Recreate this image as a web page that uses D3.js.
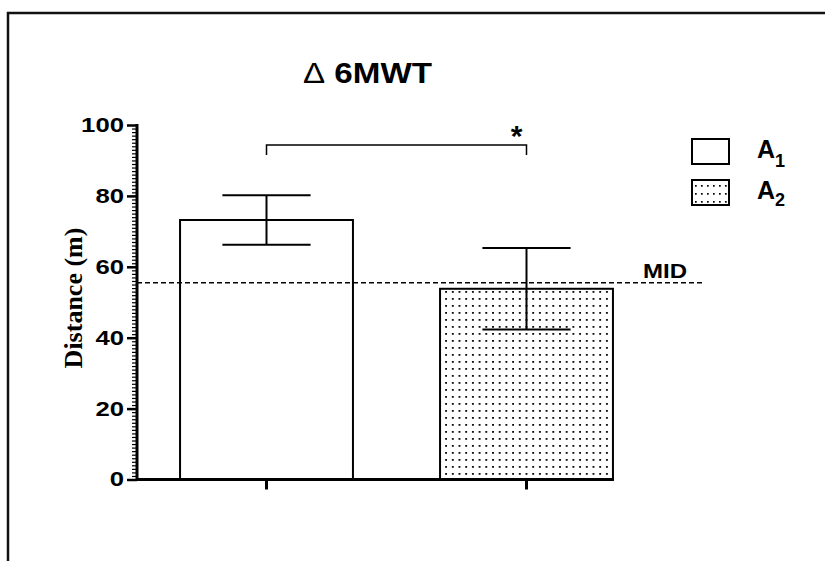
<!DOCTYPE html>
<html>
<head>
<meta charset="utf-8">
<script src="https://cdn.jsdelivr.net/npm/d3@7"></script>
<style>
  html, body { margin: 0; padding: 0; background: #fff; overflow: hidden; }
  svg { display: block; }
  text { font-family: "Liberation Sans", Arial, sans-serif; fill: #000; }
</style>
</head>
<body>
<svg id="chart" width="825" height="561"></svg>
<script>
// Group labels, mean change in walking distance and error half-widths
const categories = ["A1", "A2"];
const means = [73.2, 53.8];
const errors = [7.0, 11.5];
const fills = ["plain", "dots"];
// Minimal important difference reference line
const midValue = 55.5;
const midLabel = "MID";
// Y axis ticks
const yMajorTicks = [0, 20, 40, 60, 80, 100];
const yMinorTicks = d3.range(0, 101, 1);
const titleText = "6MWT";
const yTitle = "Distance (m)";

const svg = d3.select("#chart");
const defs = svg.append("defs");

// Stipple fill for the second group
const pat = defs.append("pattern")
  .attr("id", "dots")
  .attr("patternUnits", "userSpaceOnUse")
  .attr("width", 6.7).attr("height", 7)
  .attr("x", 1).attr("y", 2);
pat.append("rect").attr("width", 6.7).attr("height", 7).attr("fill", "#fff");
pat.append("rect").attr("x", 2).attr("y", 2).attr("width", 1.8).attr("height", 1.8).attr("fill", "#000");

const legPat = defs.append("pattern")
  .attr("id", "dotsLegend")
  .attr("patternUnits", "userSpaceOnUse")
  .attr("width", 6).attr("height", 8)
  .attr("x", 693).attr("y", 182);
legPat.append("rect").attr("width", 6).attr("height", 8).attr("fill", "#fff");
legPat.append("rect").attr("x", 2).attr("y", 3).attr("width", 1.7).attr("height", 1.7).attr("fill", "#000");

// Page frame (top and left edges)
svg.append("path").attr("d", "M8,561 V13 H825").attr("fill", "none").attr("stroke", "#111").attr("stroke-width", 2.5);

// Scales
const x = d3.scaleBand().domain(categories).range([136.5, 656.5]).paddingInner(0.335).paddingOuter(0.1675);
const y = d3.scaleLinear().domain([0, 100]).range([479.5, 125]);

// Bars
const bars = svg.append("g");
bars.selectAll("rect").data(categories).join("rect")
  .attr("x", d => x(d))
  .attr("y", (d, i) => y(means[i]))
  .attr("width", x.bandwidth())
  .attr("height", (d, i) => y(0) - y(means[i]))
  .attr("fill", (d, i) => fills[i] === "dots" ? "url(#dots)" : "#fff")
  .attr("stroke", "#000").attr("stroke-width", 2);

// MID dashed line
const midX0 = 137, midX1 = 703;
svg.append("line")
  .attr("x1", midX0).attr("x2", midX1)
  .attr("y1", y(midValue)).attr("y2", y(midValue))
  .attr("stroke", "#000").attr("stroke-width", 1.3).attr("stroke-dasharray", "5,3");
svg.append("text").attr("x", 643).attr("y", y(midValue) - 5)
  .attr("font-size", 21).attr("font-weight", "bold")
  .attr("textLength", 44).attr("lengthAdjust", "spacingAndGlyphs")
  .text(midLabel);

// Error bars
const capW = x.bandwidth() * 0.51;
const eb = svg.append("g").attr("stroke", "#000").attr("stroke-width", 2).attr("fill", "none");
categories.forEach((c, i) => {
  const cx = x(c) + x.bandwidth() / 2;
  const hi = y(means[i] + errors[i]), lo = y(means[i] - errors[i]);
  eb.append("line").attr("x1", cx).attr("x2", cx).attr("y1", hi).attr("y2", lo);
  eb.append("line").attr("x1", cx - capW / 2).attr("x2", cx + capW / 2).attr("y1", hi).attr("y2", hi);
  eb.append("line").attr("x1", cx - capW / 2).attr("x2", cx + capW / 2).attr("y1", lo).attr("y2", lo);
});

// Y axis: minor ticks every unit, labelled majors every 20
const yAxisG = svg.append("g").attr("transform", "translate(137,0)");
yAxisG.append("g").call(d3.axisLeft(y).tickValues(yMinorTicks).tickSize(5).tickFormat(""))
  .call(g => g.selectAll("line").attr("stroke", "#000").attr("stroke-width", 1.2))
  .call(g => g.select(".domain").remove());
yAxisG.append("g").call(d3.axisLeft(y).tickValues(yMajorTicks).tickSize(10).tickPadding(3).tickFormat(d3.format("d")))
  .call(g => g.selectAll("line").attr("stroke", "#000").attr("stroke-width", 2.5))
  .call(g => g.select(".domain").remove())
  .call(g => g.selectAll("text")
    .attr("font-family", "'Liberation Sans', Arial, sans-serif")
    .attr("font-size", 20).attr("font-weight", "bold").attr("fill", "#000")
    .attr("textLength", d => String(d).length * 14.3)
    .attr("lengthAdjust", "spacingAndGlyphs"));
svg.append("line").attr("x1", 137).attr("x2", 137).attr("y1", y(100) - 1).attr("y2", y(0) + 1.5)
  .attr("stroke", "#000").attr("stroke-width", 3);

// X axis line with centred category ticks
const xAxisG = svg.append("g").attr("transform", `translate(0,${y(0)})`);
xAxisG.call(d3.axisBottom(x).tickSize(10).tickFormat(""))
  .call(g => g.select(".domain").remove())
  .call(g => g.selectAll("line").attr("stroke", "#000").attr("stroke-width", 3));
svg.append("line").attr("x1", 136).attr("x2", x(categories[1]) + x.bandwidth() + 1)
  .attr("y1", y(0)).attr("y2", y(0)).attr("stroke", "#000").attr("stroke-width", 3);

// Y axis title
svg.append("text")
  .attr("transform", "translate(82,298) rotate(-90)")
  .attr("text-anchor", "middle")
  .style("font-family", "'Liberation Serif', 'Times New Roman', serif")
  .attr("font-size", 26).attr("font-weight", "bold")
  .text(yTitle);

// Chart title
const title = svg.append("text").attr("x", 303).attr("y", 83).attr("font-size", 30)
  .attr("textLength", 129).attr("lengthAdjust", "spacingAndGlyphs");
title.append("tspan").attr("font-weight", "normal").text("\u0394");
title.append("tspan").attr("font-weight", "bold").text(" " + titleText);

// Significance bracket
const bx0 = x(categories[0]) + x.bandwidth() / 2, bx1 = x(categories[1]) + x.bandwidth() / 2;
svg.append("path").attr("d", `M${bx0},155 V145 H${bx1} V155`)
  .attr("fill", "none").attr("stroke", "#000").attr("stroke-width", 1.5);
svg.append("text").attr("x", bx1 - 10).attr("y", 146).attr("text-anchor", "middle")
  .attr("font-size", 30).attr("font-weight", "bold").text("*");

// Legend
const legend = svg.append("g");
categories.forEach((c, i) => {
  const ly = 139 + i * 41;
  legend.append("rect").attr("x", 692).attr("y", ly).attr("width", 37).attr("height", 25)
    .attr("fill", fills[i] === "dots" ? "url(#dotsLegend)" : "#fff")
    .attr("stroke", "#000").attr("stroke-width", 2);
  const t = legend.append("text").attr("x", 757).attr("y", ly + 19).attr("font-size", 25).attr("font-weight", "bold");
  t.append("tspan").text(c[0]);
  t.append("tspan").attr("dy", i === 0 ? 9 : 7).attr("font-size", 18).text(c.slice(1));
});
</script>
</body>
</html>
